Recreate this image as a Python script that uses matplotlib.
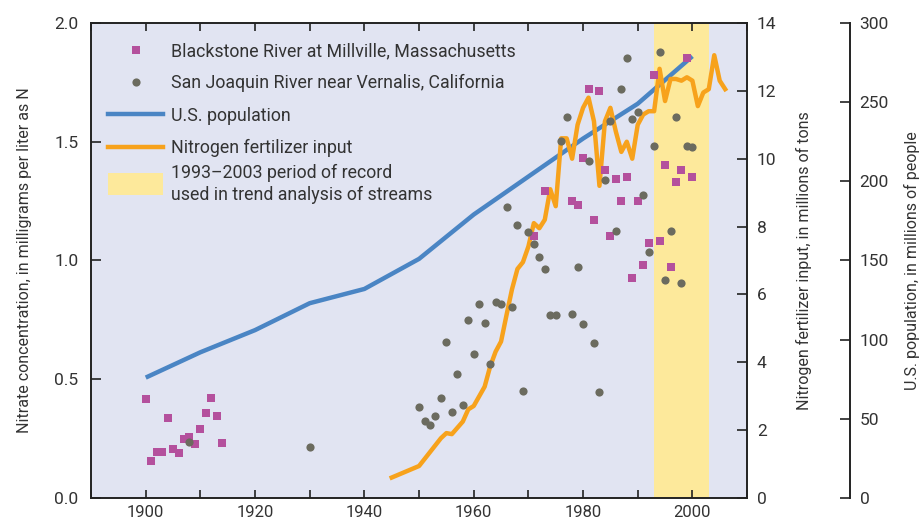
import matplotlib
matplotlib.use("Agg")
import matplotlib.pyplot as plt
import matplotlib.patches as mpatches
from matplotlib.lines import Line2D
from matplotlib.legend_handler import HandlerPatch
from matplotlib.ticker import MultipleLocator

plt.rcParams['font.family'] = ['Roboto', 'DejaVu Sans']

# colours
BG = '#e1e4f2'
SPAN = '#fde99b'
BLUE = '#4a85c4'
ORANGE = '#f7a21c'
MAGENTA = '#b4509d'
GRAY = '#6b6b5f'
TXT = '#333333'
INK = '#222222'

# Blackstone River at Millville (nitrate, mg/L as N)
blackstone_years = [1900, 1901, 1902, 1903, 1904, 1905, 1906, 1907, 1908, 1909, 1910,
                    1911, 1912, 1913, 1914, 1971, 1973, 1978, 1979, 1980, 1981, 1982,
                    1983, 1984, 1985, 1986, 1987, 1988, 1989, 1990, 1991, 1992, 1993,
                    1994, 1995, 1996, 1997, 1998, 1999, 2000]
blackstone_no3 = [0.416, 0.155, 0.192, 0.192, 0.336, 0.205, 0.188, 0.247, 0.256, 0.226, 0.289,
                  0.357, 0.42, 0.344, 0.23, 1.101, 1.291, 1.249, 1.232, 1.432, 1.72, 1.169,
                  1.712, 1.38, 1.101, 1.342, 1.249, 1.35, 0.925, 1.249, 0.98, 1.072, 1.78,
                  1.081, 1.401, 0.971, 1.329, 1.38, 1.851, 1.35]

# San Joaquin River near Vernalis
sanjoaquin_years = [1908, 1930] + list(range(1950, 2001))
sanjoaquin_no3 = [0.236, 0.215,
                  0.383, 0.323, 0.309, 0.345, 0.42, 0.656, 0.363, 0.522, 0.393, 0.749,
                  0.608, 0.818, 0.738, 0.566, 0.825, 0.816, 1.227, 0.804, 1.149, 0.452,
                  1.119, 1.068, 1.016, 0.963, 0.769, 0.769, 1.503, 1.606, 0.775, 0.973,
                  0.733, 1.42, 0.654, 0.445, 1.338, 1.589, 1.125, 1.72, 1.851, 1.597,
                  1.627, 1.276, 1.036, 1.482, 1.878, 0.918, 1.125, 1.603, 0.904, 1.482,
                  1.477]

# U.S. population, millions
pop_years = [1900, 1910, 1920, 1930, 1940, 1950, 1960, 1970, 1980, 1990, 2000]
pop_millions = [76, 92, 106, 123, 132, 151, 179, 203, 227, 249, 279]

# Nitrogen fertilizer input, millions of tons
fert_years = [1945, 1950, 1954, 1955, 1956, 1958, 1959, 1960, 1962, 1963, 1964, 1965,
              1966, 1967, 1968, 1969, 1970, 1971, 1972, 1973, 1974, 1975, 1976, 1977,
              1978, 1979, 1980, 1981, 1982, 1983, 1984, 1985, 1986, 1987, 1988, 1989,
              1990, 1991, 1992, 1993, 1994, 1995, 1996, 1997, 1998, 1999, 2000, 2001,
              2002, 2003, 2004, 2005, 2006]
fert_tons = [0.6, 0.94, 1.76, 1.91, 1.88, 2.25, 2.61, 2.71, 3.28, 3.87, 4.31, 4.61,
             5.39, 6.15, 6.75, 6.95, 7.41, 8.1, 7.95, 8.2, 9.1, 8.6, 10.6, 10.6,
             10.0, 11.0, 11.5, 11.8, 11.1, 9.2, 11.1, 11.5, 10.8, 10.2, 10.5, 10.0,
             11.0, 11.3, 11.4, 11.4, 12.65, 11.7, 12.35, 12.35, 12.3, 12.4, 12.3, 11.55,
             11.95, 12.05, 13.05, 12.3, 12.05]

trend_start, trend_end = 1993, 2003


def tall_patch(legend, orig_handle, xdescent, ydescent, width, height, fontsize):
    # taller box so it sits beside both lines of the label
    return mpatches.Rectangle((-xdescent, -ydescent - 0.33 * height), width, 1.76 * height)


fig = plt.figure(figsize=(9.2, 5.23), dpi=100)
ax3 = fig.add_axes([0.099, 0.048, 0.713, 0.908])   # host: background, x axis, population
ax2 = ax3.twinx()                                  # fertilizer
ax = ax3.twinx()                                   # nitrate (left axis)
ax3.set_zorder(1)
ax2.set_zorder(2)
ax.set_zorder(3)
ax3.patch.set_facecolor(BG)
ax2.patch.set_visible(False)
ax.patch.set_visible(False)

ax3.axvspan(trend_start, trend_end, color=SPAN, lw=0, zorder=0)
ax3.plot(pop_years, pop_millions, color=BLUE, lw=3.2, solid_capstyle='butt')
ax2.plot(fert_years, fert_tons, color=ORANGE, lw=3.2)

ax.plot(blackstone_years, blackstone_no3, 's', color=MAGENTA, ms=5.7, mew=0)
ax.plot(sanjoaquin_years, sanjoaquin_no3, 'o', color=GRAY, ms=5.9, mew=0)

ax3.set_xlim(1890, 2010)
ax.set_ylim(0, 2.0)
ax2.set_ylim(0, 14)
ax3.set_ylim(0, 300)

# x axis on the host
ax3.xaxis.set_major_locator(MultipleLocator(20))
ax3.xaxis.set_minor_locator(MultipleLocator(10))
ax3.tick_params(axis='x', which='both', direction='in', top=True, bottom=True,
                length=6, width=1.2, colors=INK, labelcolor=TXT, labelsize=12, pad=5)

# nitrate on the left
ax.yaxis.tick_left()
ax.yaxis.set_label_position('left')
ax.set_yticks([0, 0.5, 1.0, 1.5, 2.0])
ax.set_yticklabels(['0.0', '0.5', '1.0', '1.5', '2.0'])
ax.tick_params(axis='y', direction='in', length=7, width=1.2, colors=INK,
               labelcolor=TXT, labelsize=12.5, pad=9)

# fertilizer on the frame's right edge
ax2.set_yticks(range(0, 15, 2))
ax2.tick_params(axis='y', direction='in', length=7, width=1.2, colors=INK,
                labelcolor=TXT, labelsize=12.5, pad=7)

# population on a detached spine
ax3.yaxis.tick_right()
ax3.yaxis.set_label_position('right')
ax3.set_yticks(range(0, 301, 50))
ax3.spines['right'].set_position(('axes', 1.157))
ax3.tick_params(axis='y', direction='in', length=7, width=1.2, colors=INK,
                labelcolor=TXT, labelsize=12.5, pad=7)

for a in (ax, ax2, ax3):
    for s in a.spines.values():
        s.set_color(INK)
        s.set_linewidth(1.4)
ax3.spines['left'].set_visible(False)
for s in ['left', 'top', 'bottom']:
    ax2.spines[s].set_visible(False)
for s in ['right', 'top', 'bottom']:
    ax.spines[s].set_visible(False)

ax.set_ylabel('Nitrate concentration, in milligrams per liter as N', fontsize=11.5,
              color=TXT, labelpad=16)
ax2.set_ylabel('Nitrogen fertilizer input, in millions of tons', fontsize=11.5,
               color=TXT, labelpad=14)
ax3.set_ylabel('U.S. population, in millions of people', fontsize=11.5,
               color=TXT, labelpad=11)

handles = [
    Line2D([], [], ls='none', marker='s', color=MAGENTA, ms=5.7, mew=0),
    Line2D([], [], ls='none', marker='o', color=GRAY, ms=5.9, mew=0),
    Line2D([], [], color=BLUE, lw=3.2),
    Line2D([], [], color=ORANGE, lw=3.2),
]
labels = ['Blackstone River at Millville, Massachusetts',
          'San Joaquin River near Vernalis, California',
          'U.S. population',
          'Nitrogen fertilizer input']
leg_kw = dict(frameon=False, fontsize=12.8, handlelength=3.1, handletextpad=0.45,
              borderaxespad=0, borderpad=0)
leg = ax.legend(handles, labels, loc='upper left', bbox_to_anchor=(0.026, 0.96),
                labelspacing=0.8, **leg_kw)
for t in leg.get_texts():
    t.set_color(TXT)
ax.add_artist(leg)

# the shaded-period entry has its own two-line box
leg2 = ax.legend([mpatches.Patch(facecolor=SPAN, edgecolor='none')],
                 ['1993\u20132003 period of record\nused in trend analysis of streams'],
                 loc='center left', bbox_to_anchor=(0.026, 0.661),
                 handler_map={mpatches.Patch: HandlerPatch(patch_func=tall_patch)},
                 **leg_kw)
for t in leg2.get_texts():
    t.set_color(TXT)
    t.set_linespacing(1.3)

fig.savefig('out.png', dpi=100)
